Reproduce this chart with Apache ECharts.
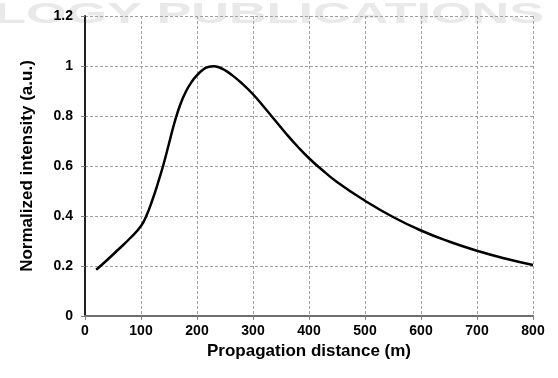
<!DOCTYPE html>
<html>
<head>
<meta charset="utf-8">
<script src="https://cdn.jsdelivr.net/npm/echarts@6/dist/echarts.min.js"></script>
<style>html,body{margin:0;padding:0;background:#fff}#c{width:558px;height:378px}</style>
</head>
<body>
<div id="c"></div>
<script>
const distance = [20, 40, 60, 80, 100, 110, 120, 130, 140, 150, 160, 170, 180, 190, 200, 210, 220, 230, 240, 250, 260, 280, 300, 320, 340, 360, 380, 400, 420, 450, 500, 550, 600, 650, 700, 750, 800];
const intensity = [0.185, 0.225, 0.267, 0.31, 0.36, 0.403, 0.462, 0.53, 0.605, 0.69, 0.775, 0.845, 0.897, 0.935, 0.963, 0.984, 0.996, 0.999, 0.994, 0.983, 0.968, 0.931, 0.887, 0.835, 0.781, 0.727, 0.677, 0.631, 0.591, 0.536, 0.461, 0.396, 0.342, 0.298, 0.261, 0.23, 0.204];
const xTicks = [0, 100, 200, 300, 400, 500, 600, 700, 800];
const yTicks = [0, 0.2, 0.4, 0.6, 0.8, 1, 1.2];

const points = distance.map((d, i) => [d, intensity[i]]);
const font = '"Liberation Sans", Arial, sans-serif';
const chart = echarts.init(document.getElementById('c'), null, {renderer: 'canvas'});
chart.setOption({
  animation: false,
  backgroundColor: '#fff',
  graphic: [{
    type: 'text', x: -6, y: 0, scaleX: 1.8, z: -10, silent: true,
    style: {text: 'LOGY PUBLICATIONS', fill: '#e9e9e9', font: 'bold 29px ' + font}
  }],
  grid: {left: 85, right: 25, top: 16, bottom: 62},
  xAxis: [{
    type: 'value', min: xTicks[0], max: xTicks[xTicks.length - 1], interval: 100,
    name: 'Propagation distance (m)', nameLocation: 'middle', nameGap: 26,
    nameTextStyle: {fontFamily: font, fontWeight: 'bold', fontSize: 17, color: '#000'},
    axisLine: {show: true, lineStyle: {color: '#808080', width: 2}},
    axisTick: {show: true, inside: false, length: 4, lineStyle: {color: '#808080'}},
    axisLabel: {fontFamily: font, fontWeight: 'bold', fontSize: 14, color: '#000', margin: 8},
    splitLine: {show: true, lineStyle: {color: '#a0a0a0', type: [3, 2], width: 1}}
  }, {
    type: 'value', position: 'top', min: 0, max: 800,
    axisLine: {show: true, lineStyle: {color: '#707070', width: 2}},
    axisTick: {show: false}, axisLabel: {show: false}, splitLine: {show: false}
  }],
  yAxis: [{
    type: 'value', min: yTicks[0], max: yTicks[yTicks.length - 1], interval: 0.2,
    name: 'Normalized intensity (a.u.)', nameLocation: 'middle', nameGap: 49,
    nameTextStyle: {fontFamily: font, fontWeight: 'bold', fontSize: 17, color: '#000'},
    axisLine: {show: true, lineStyle: {color: '#808080', width: 2}},
    axisTick: {show: true, inside: false, length: 4, lineStyle: {color: '#808080'}},
    axisLabel: {fontFamily: font, fontWeight: 'bold', fontSize: 14, color: '#000', margin: 12,
      formatter: v => String(+v.toFixed(1))},
    splitLine: {show: true, lineStyle: {color: '#a0a0a0', type: [3, 2], width: 1}}
  }, {
    type: 'value', position: 'right', min: 0, max: 1.2,
    axisLine: {show: true, lineStyle: {color: '#000', width: 1.5}},
    axisTick: {show: false}, axisLabel: {show: false}, splitLine: {show: false}
  }],
  series: [{
    type: 'line', data: points, smooth: 0.5, showSymbol: false,
    lineStyle: {color: '#000', width: 2.5}
  }]
});
</script>
</body>
</html>
